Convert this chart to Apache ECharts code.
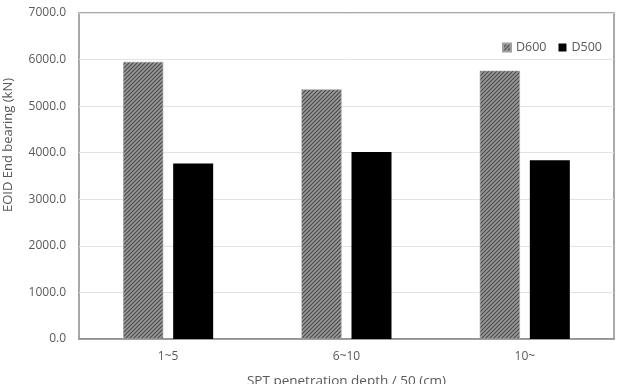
<!DOCTYPE html>
<html><head><meta charset="utf-8">
<script src="https://cdn.jsdelivr.net/npm/echarts@6/dist/echarts.min.js"></script>
<style>html,body{margin:0;padding:0;background:#fff}#c{width:617px;height:384px}</style>
</head><body><div id="c"></div>
<script>
const categories = ['1~5', '6~10', '10~'];
const d600 = [5950, 5360, 5760];
const d500 = [3770, 4015, 3840];
const yTicks = [0, 1000, 2000, 3000, 4000, 5000, 6000, 7000];

function makePattern() {
  const c = document.createElement('canvas');
  c.width = 4; c.height = 4;
  const g = c.getContext('2d');
  g.fillStyle = '#9a9a9a';
  g.fillRect(0, 0, 4, 4);
  g.strokeStyle = '#4a4a4a';
  g.lineWidth = 1.2;
  g.beginPath();
  g.moveTo(0, 4); g.lineTo(4, 0);
  g.moveTo(-1, 1); g.lineTo(1, -1);
  g.moveTo(3, 5); g.lineTo(5, 3);
  g.stroke();
  return c;
}
const pat = { image: makePattern(), repeat: 'repeat' };

const chart = echarts.init(document.getElementById('c'));
const font = '"Open Sans", "Liberation Sans", sans-serif';
chart.setOption({
  animation: false,
  textStyle: { fontFamily: font },
  grid: { left: 79, right: 3, top: 13, bottom: 45, show: true, borderColor: '#8c8c8c', borderWidth: 1.5,
          containLabel: false, outerBoundsMode: 'none' },
  legend: {
    right: 10, top: 36, itemWidth: 8, itemHeight: 8, itemGap: 12,
    textStyle: { color: '#595959', fontSize: 12.5, fontFamily: font },
    data: [{ name: 'D600', icon: 'rect' }, { name: 'D500', icon: 'rect' }]
  },
  xAxis: {
    type: 'category', data: categories,
    axisLine: { show: true, lineStyle: { color: '#8c8c8c', width: 1.5 } },
    axisTick: { show: false },
    axisLabel: { color: '#595959', fontSize: 12, margin: 12 },
    name: 'SPT penetration depth / 50 (cm)', nameLocation: 'middle', nameGap: 35,
    nameTextStyle: { color: '#595959', fontSize: 13.5 }
  },
  yAxis: {
    type: 'value', min: yTicks[0], max: yTicks[yTicks.length - 1], interval: 1000,
    axisLine: { show: false }, axisTick: { show: false },
    axisLabel: { color: '#595959', fontSize: 12, margin: 13, formatter: v => v.toFixed(1) },
    splitLine: { lineStyle: { color: '#e3e3e3', width: 1 } }
  },
  graphic: [{
    type: 'text', left: 2, top: 78, rotation: Math.PI / 2,
    style: { text: 'EOID End bearing (kN)', fill: '#595959', font: '13px ' + font }
  }],
  series: [
    { name: 'D600', type: 'bar', data: d600, barWidth: 40, barGap: '25%',
      itemStyle: { color: pat, borderColor: '#a0a0a0', borderWidth: 0.5 } },
    { name: 'D500', type: 'bar', data: d500, barWidth: 40,
      itemStyle: { color: '#000' } }
  ]
});
</script></body></html>
